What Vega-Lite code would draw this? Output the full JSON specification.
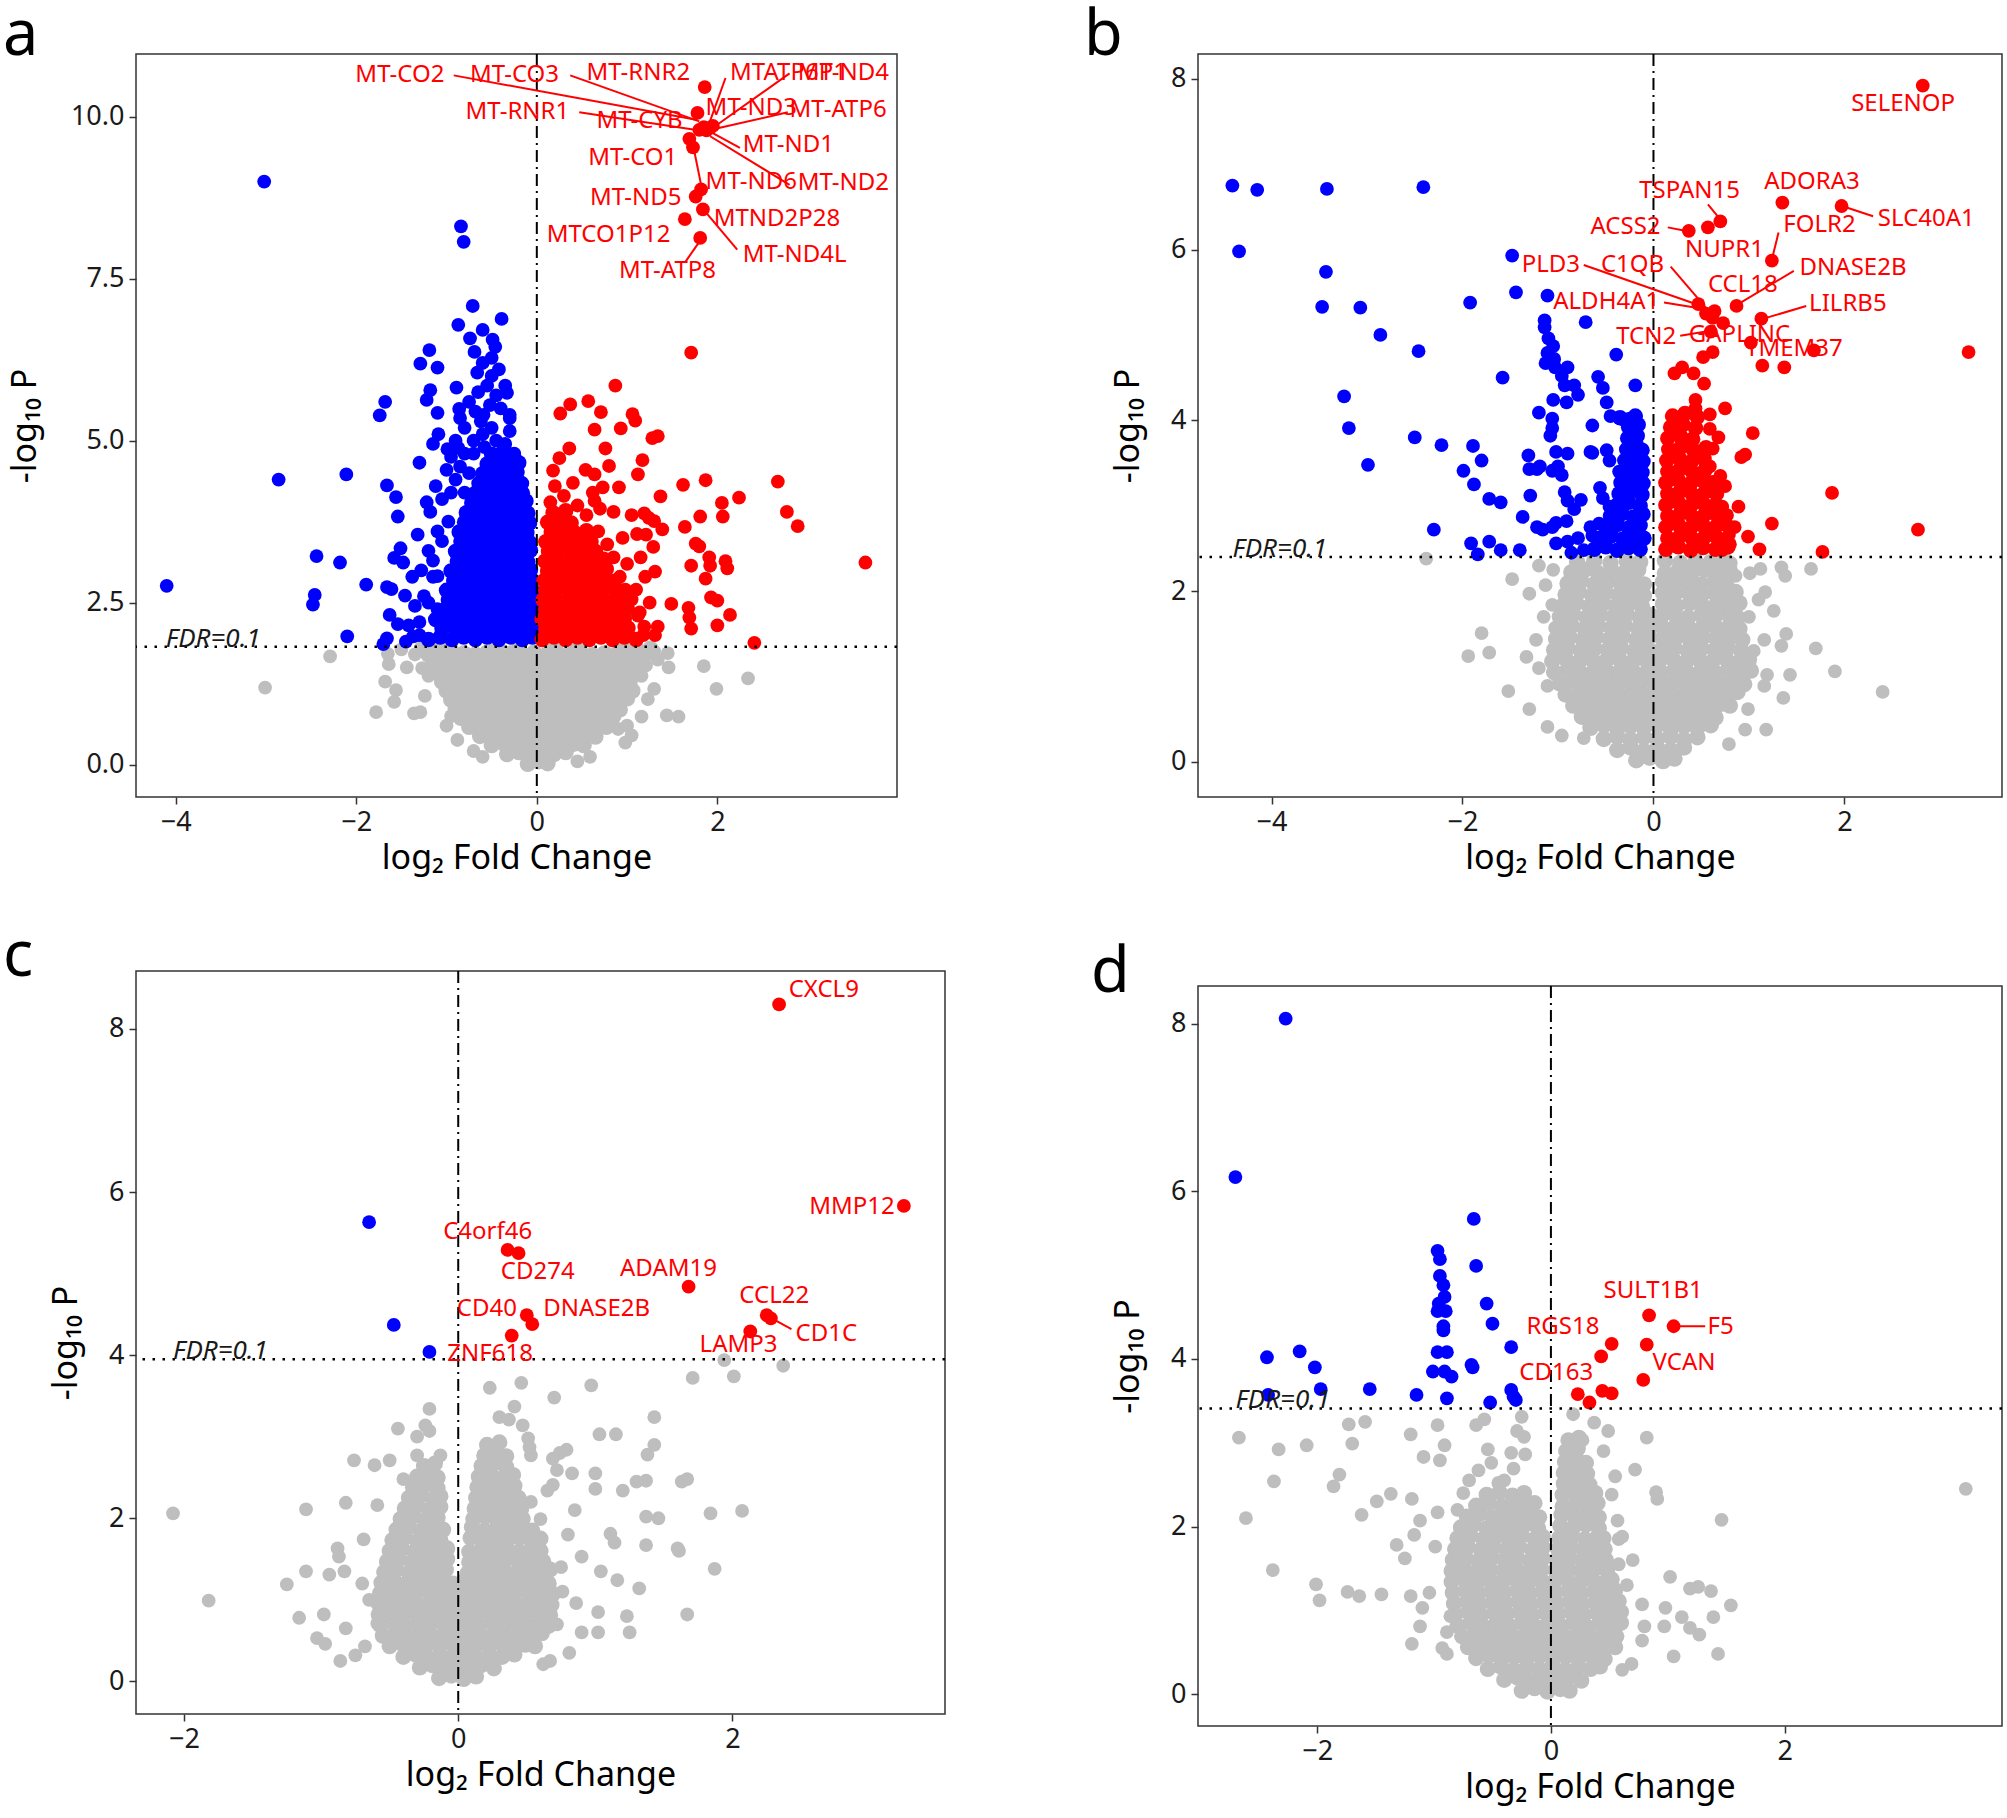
{
"$schema":"https://vega.github.io/schema/vega-lite/v6.json",
"background":"white",
"padding":{"left":2,"top":4,"right":0,"bottom":14},
"config":{
 "font":"Noto Sans",
 "view":{"stroke":"#333333","strokeWidth":1.5},
 "axis":{"grid":false,"domain":false,"labelFont":"Noto Sans","labelFontSize":27,"labelColor":"#1a1a1a","titleFont":"Noto Sans","titleFontSize":34,"titleFontWeight":"normal","titleColor":"black","tickColor":"#333333","tickSize":7,"tickWidth":1.5,"labelPadding":5},
 "axisX":{"titlePadding":6},
 "axisY":{"titlePadding":25},
 "title":{"font":"Noto Sans","fontSize":63,"fontWeight":"normal","color":"black","anchor":"start","frame":"group"}
},
"datasets":{
"Ag":[
{"x":-0.1,"y":0.01},{"x":0.02,"y":0.05},{"x":0.12,"y":0.02},
{"x":-0.33,"y":0.16},{"x":-0.2,"y":0.19},{"x":-0.07,"y":0.15},{"x":0.06,"y":0.18},{"x":0.19,"y":0.16},{"x":0.32,"y":0.19},
{"x":-0.5,"y":0.3},{"x":-0.37,"y":0.33},{"x":-0.24,"y":0.29},{"x":-0.11,"y":0.32},{"x":0.02,"y":0.3},{"x":0.15,"y":0.33},{"x":0.28,"y":0.29},{"x":0.41,"y":0.32},{"x":0.52,"y":0.3},
{"x":-0.63,"y":0.44},{"x":-0.5,"y":0.47},{"x":-0.37,"y":0.43},{"x":-0.24,"y":0.46},{"x":-0.11,"y":0.44},{"x":0.02,"y":0.47},{"x":0.15,"y":0.43},{"x":0.28,"y":0.46},{"x":0.41,"y":0.44},{"x":0.54,"y":0.47},{"x":0.65,"y":0.43},
{"x":-0.75,"y":0.58},{"x":-0.62,"y":0.61},{"x":-0.49,"y":0.57},{"x":-0.36,"y":0.6},{"x":-0.23,"y":0.58},{"x":-0.1,"y":0.61},{"x":0.03,"y":0.57},{"x":0.16,"y":0.6},{"x":0.29,"y":0.58},{"x":0.42,"y":0.61},{"x":0.55,"y":0.57},{"x":0.68,"y":0.6},{"x":0.77,"y":0.58},
{"x":-0.84,"y":0.72},{"x":-0.71,"y":0.75},{"x":-0.58,"y":0.71},{"x":-0.45,"y":0.74},{"x":-0.32,"y":0.72},{"x":-0.19,"y":0.75},{"x":-0.06,"y":0.71},{"x":0.07,"y":0.74},{"x":0.2,"y":0.72},{"x":0.33,"y":0.75},{"x":0.46,"y":0.71},{"x":0.59,"y":0.74},{"x":0.72,"y":0.72},{"x":0.85,"y":0.75},
{"x":-0.9,"y":0.86},{"x":-0.77,"y":0.89},{"x":-0.64,"y":0.85},{"x":-0.51,"y":0.88},{"x":-0.38,"y":0.86},{"x":-0.25,"y":0.89},{"x":-0.12,"y":0.85},{"x":0.01,"y":0.88},{"x":0.14,"y":0.86},{"x":0.27,"y":0.89},{"x":0.4,"y":0.85},{"x":0.53,"y":0.88},{"x":0.66,"y":0.86},{"x":0.79,"y":0.89},{"x":0.92,"y":0.85},
{"x":-0.95,"y":1.0},{"x":-0.82,"y":1.03},{"x":-0.69,"y":0.99},{"x":-0.56,"y":1.02},{"x":-0.43,"y":1.0},{"x":-0.3,"y":1.03},{"x":-0.17,"y":0.99},{"x":-0.04,"y":1.02},{"x":0.09,"y":1.0},{"x":0.22,"y":1.03},{"x":0.35,"y":0.99},{"x":0.48,"y":1.02},{"x":0.61,"y":1.0},{"x":0.74,"y":1.03},{"x":0.87,"y":0.99},{"x":1.0,"y":1.02},
{"x":-1.0,"y":1.14},{"x":-0.87,"y":1.17},{"x":-0.74,"y":1.13},{"x":-0.61,"y":1.16},{"x":-0.48,"y":1.14},{"x":-0.35,"y":1.17},{"x":-0.22,"y":1.13},{"x":-0.09,"y":1.16},{"x":0.04,"y":1.14},{"x":0.17,"y":1.17},{"x":0.3,"y":1.13},{"x":0.43,"y":1.16},{"x":0.56,"y":1.14},{"x":0.69,"y":1.17},{"x":0.82,"y":1.13},{"x":0.95,"y":1.16},{"x":1.06,"y":1.14},
{"x":-1.05,"y":1.28},{"x":-0.92,"y":1.31},{"x":-0.79,"y":1.27},{"x":-0.66,"y":1.3},{"x":-0.53,"y":1.28},{"x":-0.4,"y":1.31},{"x":-0.27,"y":1.27},{"x":-0.14,"y":1.3},{"x":-0.01,"y":1.28},{"x":0.12,"y":1.31},{"x":0.25,"y":1.27},{"x":0.38,"y":1.3},{"x":0.51,"y":1.28},{"x":0.64,"y":1.31},{"x":0.77,"y":1.27},{"x":0.9,"y":1.3},{"x":1.03,"y":1.28},
{"x":-1.1,"y":1.42},{"x":-0.97,"y":1.45},{"x":-0.84,"y":1.41},{"x":-0.71,"y":1.44},{"x":-0.58,"y":1.42},{"x":-0.45,"y":1.45},{"x":-0.32,"y":1.41},{"x":-0.19,"y":1.44},{"x":-0.06,"y":1.42},{"x":0.07,"y":1.45},{"x":0.2,"y":1.41},{"x":0.33,"y":1.44},{"x":0.46,"y":1.42},{"x":0.59,"y":1.45},{"x":0.72,"y":1.41},{"x":0.85,"y":1.44},{"x":0.98,"y":1.42},{"x":1.1,"y":1.45},
{"x":-1.15,"y":1.56},{"x":-1.02,"y":1.59},{"x":-0.89,"y":1.55},{"x":-0.76,"y":1.58},{"x":-0.63,"y":1.56},{"x":-0.5,"y":1.59},{"x":-0.37,"y":1.55},{"x":-0.24,"y":1.58},{"x":-0.11,"y":1.56},{"x":0.02,"y":1.59},{"x":0.15,"y":1.55},{"x":0.28,"y":1.58},{"x":0.41,"y":1.56},{"x":0.54,"y":1.59},{"x":0.67,"y":1.55},{"x":0.8,"y":1.58},{"x":0.93,"y":1.56},{"x":1.06,"y":1.59},{"x":1.16,"y":1.55},
{"x":-1.2,"y":1.7},{"x":-1.07,"y":1.73},{"x":-0.94,"y":1.69},{"x":-0.81,"y":1.72},{"x":-0.68,"y":1.7},{"x":-0.55,"y":1.73},{"x":-0.42,"y":1.69},{"x":-0.29,"y":1.72},{"x":-0.16,"y":1.7},{"x":-0.03,"y":1.73},{"x":0.1,"y":1.69},{"x":0.23,"y":1.72},{"x":0.36,"y":1.7},{"x":0.49,"y":1.73},{"x":0.62,"y":1.69},{"x":0.75,"y":1.72},{"x":0.88,"y":1.7},{"x":1.01,"y":1.73},{"x":1.14,"y":1.69},{"x":1.22,"y":1.72},
{"x":-1.27,"y":1.8},{"x":-1.12,"y":1.79},{"x":-0.96,"y":1.81},{"x":-0.45,"y":1.8},{"x":-0.2,"y":1.79},{"x":0.2,"y":1.8},{"x":0.45,"y":1.79},{"x":0.95,"y":1.81},{"x":1.1,"y":1.8},{"x":1.26,"y":1.79}
],
"Ago":[
{"x":-2.29,"y":1.67},{"x":-3.01,"y":1.19},{"x":-1.65,"y":1.71},{"x":-1.64,"y":1.55},{"x":-1.44,"y":1.5},{"x":-1.68,"y":1.28},{"x":-1.56,"y":1.15},{"x":-1.58,"y":0.97},{"x":-1.78,"y":0.81},{"x":-1.36,"y":0.79},{"x":-1.29,"y":0.81},{"x":-1.24,"y":1.06},{"x":-1.27,"y":1.49},{"x":-1.2,"y":1.37},{"x":-1.35,"y":1.7},{"x":-1.5,"y":1.78},{"x":-1.0,"y":0.6},{"x":-0.95,"y":0.75},{"x":-0.88,"y":0.38},{"x":-0.7,"y":0.21},{"x":-0.6,"y":0.12},
{"x":1.34,"y":1.62},{"x":1.46,"y":1.5},{"x":1.85,"y":1.52},{"x":1.99,"y":1.17},{"x":2.34,"y":1.33},{"x":1.44,"y":0.76},{"x":1.57,"y":0.74},{"x":1.3,"y":1.17},{"x":1.23,"y":1.01},{"x":1.16,"y":0.74},{"x":1.05,"y":0.45},{"x":0.98,"y":0.34},{"x":0.59,"y":0.12},{"x":1.16,"y":1.37},{"x":1.21,"y":1.53},{"x":1.0,"y":0.6},{"x":0.9,"y":0.55},{"x":0.45,"y":0.05},{"x":1.3,"y":1.75},{"x":1.45,"y":1.72}
],
"Ab":[
{"x":-1.2,"y":1.93},{"x":-1.07,"y":1.97},{"x":-0.94,"y":1.93},{"x":-0.81,"y":1.97},{"x":-0.68,"y":1.93},{"x":-0.55,"y":1.97},{"x":-0.42,"y":1.93},{"x":-0.29,"y":1.97},{"x":-0.16,"y":1.93},{"x":-0.05,"y":1.97},
{"x":-1.05,"y":2.1},{"x":-0.92,"y":2.12},{"x":-0.79,"y":2.08},{"x":-0.66,"y":2.11},{"x":-0.53,"y":2.09},{"x":-0.4,"y":2.12},{"x":-0.27,"y":2.08},{"x":-0.14,"y":2.11},{"x":-0.05,"y":2.09},
{"x":-1.12,"y":2.24},{"x":-0.99,"y":2.27},{"x":-0.86,"y":2.23},{"x":-0.73,"y":2.26},{"x":-0.6,"y":2.24},{"x":-0.47,"y":2.27},{"x":-0.34,"y":2.23},{"x":-0.21,"y":2.26},{"x":-0.08,"y":2.24},
{"x":-1.02,"y":2.39},{"x":-0.89,"y":2.42},{"x":-0.76,"y":2.38},{"x":-0.63,"y":2.41},{"x":-0.5,"y":2.39},{"x":-0.37,"y":2.42},{"x":-0.24,"y":2.38},{"x":-0.11,"y":2.41},{"x":-0.04,"y":2.39},
{"x":-0.98,"y":2.54},{"x":-0.85,"y":2.57},{"x":-0.72,"y":2.53},{"x":-0.59,"y":2.56},{"x":-0.46,"y":2.54},{"x":-0.33,"y":2.57},{"x":-0.2,"y":2.53},{"x":-0.07,"y":2.56},
{"x":-1.0,"y":2.69},{"x":-0.9,"y":2.72},{"x":-0.77,"y":2.68},{"x":-0.64,"y":2.71},{"x":-0.51,"y":2.69},{"x":-0.38,"y":2.72},{"x":-0.25,"y":2.68},{"x":-0.12,"y":2.71},{"x":-0.05,"y":2.69},
{"x":-0.92,"y":2.84},{"x":-0.79,"y":2.87},{"x":-0.66,"y":2.83},{"x":-0.53,"y":2.86},{"x":-0.4,"y":2.84},{"x":-0.27,"y":2.87},{"x":-0.14,"y":2.83},{"x":-0.06,"y":2.86},
{"x":-0.95,"y":2.99},{"x":-0.83,"y":3.02},{"x":-0.7,"y":2.98},{"x":-0.57,"y":3.01},{"x":-0.44,"y":2.99},{"x":-0.31,"y":3.02},{"x":-0.18,"y":2.98},{"x":-0.07,"y":3.01},
{"x":-0.88,"y":3.14},{"x":-0.75,"y":3.17},{"x":-0.62,"y":3.13},{"x":-0.49,"y":3.16},{"x":-0.36,"y":3.14},{"x":-0.23,"y":3.17},{"x":-0.1,"y":3.13},
{"x":-0.9,"y":3.29},{"x":-0.8,"y":3.32},{"x":-0.67,"y":3.28},{"x":-0.54,"y":3.31},{"x":-0.41,"y":3.29},{"x":-0.28,"y":3.32},{"x":-0.15,"y":3.28},{"x":-0.07,"y":3.31},
{"x":-0.84,"y":3.44},{"x":-0.71,"y":3.47},{"x":-0.58,"y":3.43},{"x":-0.45,"y":3.46},{"x":-0.32,"y":3.44},{"x":-0.19,"y":3.47},{"x":-0.08,"y":3.43},
{"x":-0.86,"y":3.59},{"x":-0.76,"y":3.62},{"x":-0.63,"y":3.58},{"x":-0.5,"y":3.61},{"x":-0.37,"y":3.59},{"x":-0.24,"y":3.62},{"x":-0.11,"y":3.58},
{"x":-0.8,"y":3.74},{"x":-0.67,"y":3.77},{"x":-0.54,"y":3.73},{"x":-0.41,"y":3.76},{"x":-0.28,"y":3.74},{"x":-0.15,"y":3.77},{"x":-0.08,"y":3.73},
{"x":-0.78,"y":3.89},{"x":-0.7,"y":3.92},{"x":-0.58,"y":3.88},{"x":-0.45,"y":3.91},{"x":-0.32,"y":3.89},{"x":-0.19,"y":3.92},{"x":-0.1,"y":3.88},
{"x":-0.72,"y":4.04},{"x":-0.6,"y":4.07},{"x":-0.49,"y":4.03},{"x":-0.36,"y":4.06},{"x":-0.23,"y":4.04},{"x":-0.12,"y":4.07},
{"x":-0.68,"y":4.19},{"x":-0.55,"y":4.22},{"x":-0.42,"y":4.18},{"x":-0.29,"y":4.21},{"x":-0.16,"y":4.19},
{"x":-0.64,"y":4.34},{"x":-0.52,"y":4.37},{"x":-0.4,"y":4.33},{"x":-0.27,"y":4.36},{"x":-0.17,"y":4.34},
{"x":-0.6,"y":4.49},{"x":-0.47,"y":4.52},{"x":-0.34,"y":4.48},{"x":-0.22,"y":4.51},
{"x":-0.55,"y":4.64},{"x":-0.43,"y":4.67},{"x":-0.3,"y":4.63},{"x":-0.2,"y":4.66},
{"x":-0.5,"y":4.79},{"x":-0.38,"y":4.82},{"x":-0.26,"y":4.78}
],
"Abo":[
{"x":-1.3,"y":2.2},{"x":-1.25,"y":2.6},{"x":-1.15,"y":2.9},{"x":-1.35,"y":2.45},{"x":-1.2,"y":3.3},{"x":-1.1,"y":3.6},{"x":-1.18,"y":3.9},{"x":-1.05,"y":4.1},{"x":-1.12,"y":4.3},{"x":-1.0,"y":4.55},{"x":-0.95,"y":4.75},{"x":-1.3,"y":2.0},{"x":-1.42,"y":2.15},{"x":-1.45,"y":1.9},{"x":-1.1,"y":2.4},{"x":-1.28,"y":3.0},{"x":-1.38,"y":2.9},{"x":-1.15,"y":3.15},{"x":-1.05,"y":3.45},{"x":-0.98,"y":3.75},{"x":-0.95,"y":4.2},{"x":-0.9,"y":4.4},{"x":-0.85,"y":4.6},{"x":-0.75,"y":4.5},{"x":-0.8,"y":4.2},
{"x":-0.9,"y":5.0},{"x":-0.8,"y":5.2},{"x":-0.7,"y":5.0},{"x":-0.6,"y":5.1},{"x":-0.5,"y":5.2},{"x":-0.45,"y":5.0},{"x":-0.35,"y":4.95},{"x":-0.3,"y":5.15},{"x":-0.75,"y":5.6},{"x":-0.65,"y":5.75},{"x":-0.55,"y":5.85},{"x":-0.45,"y":5.7},{"x":-0.62,"y":5.3},{"x":-0.4,"y":5.5},{"x":-0.3,"y":5.35},{"x":-0.8,"y":4.8},{"x":-0.7,"y":4.8},{"x":-0.58,"y":4.9},{"x":-0.25,"y":4.8},{"x":-0.2,"y":4.65},{"x":-0.52,"y":5.55},{"x":-0.68,"y":5.45},{"x":-0.85,"y":5.35},{"x":-0.35,"y":5.85},{"x":-0.5,"y":6.0},{"x":-0.6,"y":6.2},{"x":-0.42,"y":6.1},
{"x":-3.02,"y":9.0},{"x":-0.84,"y":8.31},{"x":-0.81,"y":8.07},{"x":-0.71,"y":7.08},{"x":-0.39,"y":6.88},{"x":-0.87,"y":6.79},{"x":-0.6,"y":6.71},{"x":-0.74,"y":6.58},{"x":-0.49,"y":6.56},{"x":-0.46,"y":6.45},{"x":-1.19,"y":6.4},{"x":-0.69,"y":6.37},{"x":-1.29,"y":6.19},{"x":-1.1,"y":6.13},{"x":-0.5,"y":6.28},{"x":-0.66,"y":6.05},{"x":-0.89,"y":5.82},{"x":-1.18,"y":5.78},{"x":-0.33,"y":5.74},{"x":-1.22,"y":5.63},{"x":-1.68,"y":5.6},{"x":-1.74,"y":5.39},{"x":-1.1,"y":5.43},{"x":-0.86,"y":5.49},{"x":-0.59,"y":5.4},{"x":-0.3,"y":5.4},{"x":-1.09,"y":5.1},{"x":-0.87,"y":4.89},{"x":-0.99,"y":4.87},{"x":-2.86,"y":4.4},{"x":-2.11,"y":4.48},{"x":-1.3,"y":4.66},{"x":-1.66,"y":4.31},{"x":-1.56,"y":4.13},{"x":-1.54,"y":3.83},{"x":-1.51,"y":3.34},{"x":-1.48,"y":3.12},{"x":-1.58,"y":3.19},{"x":-2.44,"y":3.22},{"x":-2.18,"y":3.12},{"x":-4.1,"y":2.76},{"x":-1.89,"y":2.78},{"x":-1.66,"y":2.74},{"x":-1.61,"y":2.71},{"x":-1.46,"y":2.61},{"x":-2.46,"y":2.62},{"x":-2.48,"y":2.47},{"x":-2.1,"y":1.98},{"x":-1.63,"y":2.31},{"x":-1.54,"y":2.17},{"x":-1.66,"y":1.95},{"x":-1.7,"y":1.86},{"x":-1.37,"y":1.98},{"x":-1.1,"y":2.91},{"x":-1.2,"y":2.5},{"x":-1.32,"y":3.55},{"x":-1.22,"y":4.05},{"x":-1.15,"y":4.95}
],
"Ar":[
{"x":0.06,"y":1.93},{"x":0.19,"y":1.97},{"x":0.32,"y":1.93},{"x":0.45,"y":1.97},{"x":0.58,"y":1.93},{"x":0.71,"y":1.97},{"x":0.84,"y":1.93},{"x":0.97,"y":1.97},{"x":1.1,"y":1.93},
{"x":0.1,"y":2.09},{"x":0.23,"y":2.12},{"x":0.36,"y":2.08},{"x":0.49,"y":2.11},{"x":0.62,"y":2.09},{"x":0.75,"y":2.12},{"x":0.88,"y":2.08},{"x":1.01,"y":2.11},
{"x":0.06,"y":2.24},{"x":0.19,"y":2.27},{"x":0.32,"y":2.23},{"x":0.45,"y":2.26},{"x":0.58,"y":2.24},{"x":0.71,"y":2.27},{"x":0.84,"y":2.23},{"x":0.97,"y":2.26},
{"x":0.1,"y":2.39},{"x":0.23,"y":2.42},{"x":0.36,"y":2.38},{"x":0.49,"y":2.41},{"x":0.62,"y":2.39},{"x":0.75,"y":2.42},{"x":0.88,"y":2.38},{"x":1.0,"y":2.41},
{"x":0.07,"y":2.54},{"x":0.2,"y":2.57},{"x":0.33,"y":2.53},{"x":0.46,"y":2.56},{"x":0.59,"y":2.54},{"x":0.72,"y":2.57},{"x":0.85,"y":2.53},{"x":0.95,"y":2.56},
{"x":0.1,"y":2.69},{"x":0.23,"y":2.72},{"x":0.36,"y":2.68},{"x":0.49,"y":2.71},{"x":0.62,"y":2.69},{"x":0.75,"y":2.72},{"x":0.88,"y":2.68},
{"x":0.08,"y":2.84},{"x":0.21,"y":2.87},{"x":0.34,"y":2.83},{"x":0.47,"y":2.86},{"x":0.6,"y":2.84},{"x":0.73,"y":2.87},{"x":0.86,"y":2.83},
{"x":0.12,"y":2.99},{"x":0.25,"y":3.02},{"x":0.38,"y":2.98},{"x":0.51,"y":3.01},{"x":0.64,"y":2.99},{"x":0.77,"y":3.02},
{"x":0.09,"y":3.14},{"x":0.22,"y":3.17},{"x":0.35,"y":3.13},{"x":0.48,"y":3.16},{"x":0.61,"y":3.14},{"x":0.74,"y":3.17},
{"x":0.13,"y":3.29},{"x":0.26,"y":3.32},{"x":0.39,"y":3.28},{"x":0.52,"y":3.31},{"x":0.65,"y":3.29},
{"x":0.1,"y":3.44},{"x":0.23,"y":3.47},{"x":0.36,"y":3.43},{"x":0.49,"y":3.46},{"x":0.6,"y":3.44},
{"x":0.16,"y":3.59},{"x":0.29,"y":3.62},{"x":0.42,"y":3.58},{"x":0.55,"y":3.61},
{"x":0.12,"y":3.74},{"x":0.25,"y":3.77},{"x":0.38,"y":3.73},
{"x":0.18,"y":3.89},{"x":0.32,"y":3.92}
],
"Aro":[
{"x":0.15,"y":4.05},{"x":0.3,"y":4.15},{"x":0.45,"y":4.0},{"x":0.55,"y":3.85},{"x":0.68,"y":3.6},{"x":0.78,"y":3.4},{"x":0.85,"y":3.2},{"x":0.92,"y":2.9},{"x":0.98,"y":2.7},{"x":1.05,"y":2.55},{"x":1.12,"y":2.3},{"x":0.2,"y":4.3},{"x":0.4,"y":4.35},{"x":0.62,"y":4.2},{"x":0.85,"y":3.9},{"x":0.95,"y":3.5},{"x":1.0,"y":3.1},{"x":0.7,"y":3.95},
{"x":1.71,"y":6.36},{"x":0.87,"y":5.85},{"x":0.57,"y":5.61},{"x":0.37,"y":5.56},{"x":0.26,"y":5.42},{"x":0.71,"y":5.44},{"x":1.06,"y":5.41},{"x":1.09,"y":5.31},{"x":0.64,"y":5.17},{"x":0.93,"y":5.19},{"x":1.28,"y":5.04},{"x":1.34,"y":5.07},{"x":0.36,"y":4.88},{"x":0.76,"y":4.88},{"x":0.25,"y":4.73},{"x":1.17,"y":4.7},{"x":0.8,"y":4.61},{"x":0.18,"y":4.54},{"x":0.54,"y":4.55},{"x":0.64,"y":4.48},{"x":1.12,"y":4.48},{"x":1.87,"y":4.39},{"x":2.67,"y":4.37},{"x":1.62,"y":4.32},{"x":0.73,"y":4.28},{"x":0.91,"y":4.28},{"x":1.37,"y":4.14},{"x":2.24,"y":4.12},{"x":2.05,"y":4.04},{"x":0.64,"y":4.07},{"x":2.77,"y":3.9},{"x":2.06,"y":3.83},{"x":1.81,"y":3.83},{"x":1.19,"y":3.88},{"x":1.24,"y":3.81},{"x":1.3,"y":3.76},{"x":2.89,"y":3.68},{"x":1.64,"y":3.67},{"x":1.39,"y":3.63},{"x":1.11,"y":3.56},{"x":1.21,"y":3.55},{"x":1.76,"y":3.41},{"x":1.8,"y":3.37},{"x":1.29,"y":3.36},{"x":3.64,"y":3.12},{"x":1.91,"y":3.2},{"x":2.09,"y":3.14},{"x":2.11,"y":3.03},{"x":1.92,"y":3.07},{"x":1.71,"y":3.07},{"x":1.31,"y":2.98},{"x":1.87,"y":2.87},{"x":1.93,"y":2.58},{"x":2.0,"y":2.53},{"x":1.49,"y":2.48},{"x":1.68,"y":2.42},{"x":2.14,"y":2.31},{"x":1.69,"y":2.27},{"x":1.71,"y":2.1},{"x":2.0,"y":2.15},{"x":2.41,"y":1.88},{"x":1.14,"y":2.35},{"x":1.19,"y":2.13},{"x":1.34,"y":2.13},{"x":1.31,"y":2.0},{"x":1.18,"y":2.0},{"x":1.1,"y":2.7},{"x":1.2,"y":2.9},{"x":1.15,"y":3.2},{"x":1.05,"y":3.85},{"x":1.25,"y":2.5},
{"x":1.86,"y":10.46},{"x":1.78,"y":10.06},{"x":1.85,"y":9.84},{"x":1.92,"y":9.83},{"x":1.88,"y":9.79},{"x":1.95,"y":9.86},{"x":1.8,"y":9.8},{"x":1.69,"y":9.66},{"x":1.73,"y":9.53},{"x":1.82,"y":8.88},{"x":1.76,"y":8.77},{"x":1.84,"y":8.57},{"x":1.64,"y":8.42},{"x":1.81,"y":8.13}
],
"AL":[
{"x":-0.92,"y":10.64,"x2":1.78,"y2":9.95},{"x":0.37,"y":10.64,"x2":1.8,"y2":9.93},{"x":0.47,"y":10.07,"x2":1.75,"y2":9.8},{"x":2.09,"y":10.6,"x2":1.9,"y2":9.86},{"x":2.8,"y":10.67,"x2":1.92,"y2":9.8},{"x":1.93,"y":9.8,"x2":2.78,"y2":10.07},{"x":1.95,"y":9.75,"x2":2.25,"y2":9.52},{"x":1.92,"y":9.7,"x2":2.8,"y2":8.95},{"x":1.74,"y":9.5,"x2":1.82,"y2":8.95},{"x":1.84,"y":8.58,"x2":2.22,"y2":7.95},{"x":1.79,"y":8.05,"x2":1.64,"y2":7.75}
],
"AT":[
{"x":-2.01,"y":10.64,"t":"MT-CO2"},{"x":-0.74,"y":10.64,"t":"MT-CO3"},{"x":0.55,"y":10.68,"t":"MT-RNR2"},{"x":2.14,"y":10.68,"t":"MTATP6P1"},{"x":2.89,"y":10.68,"t":"MT-ND4"},{"x":-0.79,"y":10.08,"t":"MT-RNR1"},{"x":0.66,"y":9.94,"t":"MT-CYB"},{"x":1.87,"y":10.13,"t":"MT-ND3"},{"x":2.8,"y":10.1,"t":"MT-ATP6"},{"x":2.28,"y":9.56,"t":"MT-ND1"},{"x":0.57,"y":9.36,"t":"MT-CO1"},{"x":1.87,"y":9.0,"t":"MT-ND6"},{"x":2.89,"y":8.98,"t":"MT-ND2"},{"x":0.59,"y":8.75,"t":"MT-ND5"},{"x":1.96,"y":8.42,"t":"MTND2P28"},{"x":0.11,"y":8.17,"t":"MTCO1P12"},{"x":2.28,"y":7.86,"t":"MT-ND4L"},{"x":0.91,"y":7.62,"t":"MT-ATP8"}
],
"Bg":[
{"x":-0.18,"y":0.02},{"x":-0.04,"y":0.05},{"x":0.1,"y":0.01},{"x":0.22,"y":0.04},
{"x":-0.38,"y":0.14},{"x":-0.24,"y":0.17},{"x":-0.1,"y":0.13},{"x":0.04,"y":0.16},{"x":0.18,"y":0.14},{"x":0.32,"y":0.17},
{"x":-0.52,"y":0.27},{"x":-0.38,"y":0.3},{"x":-0.24,"y":0.26},{"x":-0.1,"y":0.29},{"x":0.04,"y":0.27},{"x":0.18,"y":0.3},{"x":0.32,"y":0.26},{"x":0.46,"y":0.29},
{"x":-0.66,"y":0.4},{"x":-0.52,"y":0.43},{"x":-0.38,"y":0.39},{"x":-0.24,"y":0.42},{"x":-0.1,"y":0.4},{"x":0.04,"y":0.43},{"x":0.18,"y":0.39},{"x":0.32,"y":0.42},{"x":0.46,"y":0.4},{"x":0.6,"y":0.43},
{"x":-0.75,"y":0.53},{"x":-0.61,"y":0.56},{"x":-0.47,"y":0.52},{"x":-0.33,"y":0.55},{"x":-0.19,"y":0.53},{"x":-0.05,"y":0.56},{"x":0.09,"y":0.52},{"x":0.23,"y":0.55},{"x":0.37,"y":0.53},{"x":0.51,"y":0.56},{"x":0.65,"y":0.52},
{"x":-0.84,"y":0.66},{"x":-0.7,"y":0.69},{"x":-0.56,"y":0.65},{"x":-0.42,"y":0.68},{"x":-0.28,"y":0.66},{"x":-0.14,"y":0.69},{"x":0.0,"y":0.65},{"x":0.14,"y":0.68},{"x":0.28,"y":0.66},{"x":0.42,"y":0.69},{"x":0.56,"y":0.65},{"x":0.7,"y":0.68},{"x":0.8,"y":0.66},
{"x":-0.92,"y":0.79},{"x":-0.78,"y":0.82},{"x":-0.64,"y":0.78},{"x":-0.5,"y":0.81},{"x":-0.36,"y":0.79},{"x":-0.22,"y":0.82},{"x":-0.08,"y":0.78},{"x":0.06,"y":0.81},{"x":0.2,"y":0.79},{"x":0.34,"y":0.82},{"x":0.48,"y":0.78},{"x":0.62,"y":0.81},{"x":0.76,"y":0.79},{"x":0.88,"y":0.82},
{"x":-0.98,"y":0.92},{"x":-0.84,"y":0.95},{"x":-0.7,"y":0.91},{"x":-0.56,"y":0.94},{"x":-0.42,"y":0.92},{"x":-0.28,"y":0.95},{"x":-0.14,"y":0.91},{"x":0.0,"y":0.94},{"x":0.14,"y":0.92},{"x":0.28,"y":0.95},{"x":0.42,"y":0.91},{"x":0.56,"y":0.94},{"x":0.7,"y":0.92},{"x":0.84,"y":0.95},{"x":0.95,"y":0.91},
{"x":-1.04,"y":1.05},{"x":-0.9,"y":1.08},{"x":-0.76,"y":1.04},{"x":-0.62,"y":1.07},{"x":-0.48,"y":1.05},{"x":-0.34,"y":1.08},{"x":-0.2,"y":1.04},{"x":-0.06,"y":1.07},{"x":0.08,"y":1.05},{"x":0.22,"y":1.08},{"x":0.36,"y":1.04},{"x":0.5,"y":1.07},{"x":0.64,"y":1.05},{"x":0.78,"y":1.08},{"x":0.92,"y":1.04},{"x":1.02,"y":1.07},
{"x":-1.06,"y":1.18},{"x":-0.92,"y":1.21},{"x":-0.78,"y":1.17},{"x":-0.64,"y":1.2},{"x":-0.5,"y":1.18},{"x":-0.36,"y":1.21},{"x":-0.22,"y":1.17},{"x":-0.08,"y":1.2},{"x":0.06,"y":1.18},{"x":0.2,"y":1.21},{"x":0.34,"y":1.17},{"x":0.48,"y":1.2},{"x":0.62,"y":1.18},{"x":0.76,"y":1.21},{"x":0.9,"y":1.17},{"x":1.0,"y":1.2},
{"x":-1.04,"y":1.31},{"x":-0.9,"y":1.34},{"x":-0.76,"y":1.3},{"x":-0.62,"y":1.33},{"x":-0.48,"y":1.31},{"x":-0.34,"y":1.34},{"x":-0.2,"y":1.3},{"x":-0.06,"y":1.33},{"x":0.08,"y":1.31},{"x":0.22,"y":1.34},{"x":0.36,"y":1.3},{"x":0.5,"y":1.33},{"x":0.64,"y":1.31},{"x":0.78,"y":1.34},{"x":0.92,"y":1.3},
{"x":-1.02,"y":1.44},{"x":-0.88,"y":1.47},{"x":-0.74,"y":1.43},{"x":-0.6,"y":1.46},{"x":-0.46,"y":1.44},{"x":-0.32,"y":1.47},{"x":-0.18,"y":1.43},{"x":-0.04,"y":1.46},{"x":0.1,"y":1.44},{"x":0.24,"y":1.47},{"x":0.38,"y":1.43},{"x":0.52,"y":1.46},{"x":0.66,"y":1.44},{"x":0.8,"y":1.47},{"x":0.93,"y":1.43},
{"x":-1.0,"y":1.57},{"x":-0.86,"y":1.6},{"x":-0.72,"y":1.56},{"x":-0.58,"y":1.59},{"x":-0.44,"y":1.57},{"x":-0.3,"y":1.6},{"x":-0.16,"y":1.56},{"x":-0.03,"y":1.59},{"x":0.1,"y":1.57},{"x":0.24,"y":1.6},{"x":0.38,"y":1.56},{"x":0.52,"y":1.59},{"x":0.66,"y":1.57},{"x":0.8,"y":1.6},{"x":0.9,"y":1.56},
{"x":-0.98,"y":1.7},{"x":-0.84,"y":1.73},{"x":-0.7,"y":1.69},{"x":-0.56,"y":1.72},{"x":-0.42,"y":1.7},{"x":-0.28,"y":1.73},{"x":-0.14,"y":1.69},{"x":-0.03,"y":1.72},{"x":0.08,"y":1.7},{"x":0.22,"y":1.73},{"x":0.36,"y":1.69},{"x":0.5,"y":1.72},{"x":0.64,"y":1.7},{"x":0.78,"y":1.73},{"x":0.88,"y":1.69},
{"x":-0.95,"y":1.83},{"x":-0.81,"y":1.86},{"x":-0.67,"y":1.82},{"x":-0.53,"y":1.85},{"x":-0.39,"y":1.83},{"x":-0.25,"y":1.86},{"x":-0.12,"y":1.82},{"x":0.1,"y":1.85},{"x":0.24,"y":1.83},{"x":0.38,"y":1.86},{"x":0.52,"y":1.82},{"x":0.66,"y":1.85},{"x":0.8,"y":1.83},{"x":0.9,"y":1.86},
{"x":-0.92,"y":1.96},{"x":-0.78,"y":1.99},{"x":-0.64,"y":1.95},{"x":-0.5,"y":1.98},{"x":-0.36,"y":1.96},{"x":-0.22,"y":1.99},{"x":-0.1,"y":1.95},{"x":0.1,"y":1.98},{"x":0.22,"y":1.96},{"x":0.36,"y":1.99},{"x":0.5,"y":1.95},{"x":0.64,"y":1.98},{"x":0.78,"y":1.96},{"x":0.86,"y":1.99},
{"x":-0.9,"y":2.09},{"x":-0.76,"y":2.12},{"x":-0.62,"y":2.08},{"x":-0.48,"y":2.11},{"x":-0.34,"y":2.09},{"x":-0.2,"y":2.12},{"x":-0.1,"y":2.08},{"x":0.1,"y":2.11},{"x":0.22,"y":2.09},{"x":0.36,"y":2.12},{"x":0.5,"y":2.08},{"x":0.64,"y":2.11},{"x":0.76,"y":2.09},
{"x":-0.86,"y":2.22},{"x":-0.72,"y":2.25},{"x":-0.58,"y":2.21},{"x":-0.44,"y":2.24},{"x":-0.3,"y":2.22},{"x":-0.16,"y":2.25},{"x":0.12,"y":2.21},{"x":0.26,"y":2.24},{"x":0.4,"y":2.22},{"x":0.54,"y":2.25},{"x":0.68,"y":2.21},{"x":0.8,"y":2.24},
{"x":-0.8,"y":2.34},{"x":-0.62,"y":2.36},{"x":-0.45,"y":2.33},{"x":-0.28,"y":2.35},{"x":-0.14,"y":2.34},{"x":0.12,"y":2.36},{"x":0.28,"y":2.33},{"x":0.44,"y":2.35},{"x":0.6,"y":2.34},{"x":0.75,"y":2.36}
],
"Bgo":[
{"x":-2.38,"y":2.38},{"x":-1.48,"y":2.14},{"x":-1.8,"y":1.51},{"x":-1.94,"y":1.24},{"x":-1.72,"y":1.28},{"x":-1.52,"y":0.83},{"x":-1.3,"y":0.62},{"x":-1.23,"y":1.43},{"x":-1.3,"y":1.97},{"x":-1.13,"y":2.07},{"x":-1.06,"y":1.84},{"x":-1.03,"y":1.57},{"x":-1.33,"y":1.23},{"x":-1.11,"y":0.89},{"x":-1.11,"y":0.41},{"x":-0.96,"y":0.31},{"x":-0.73,"y":0.28},{"x":-1.2,"y":2.3},{"x":-1.05,"y":2.25},{"x":-1.15,"y":1.7},{"x":-1.2,"y":1.1},
{"x":0.81,"y":2.33},{"x":0.86,"y":2.18},{"x":1.01,"y":2.21},{"x":1.12,"y":2.26},{"x":1.34,"y":2.28},{"x":1.38,"y":2.18},{"x":1.65,"y":2.26},{"x":1.17,"y":1.99},{"x":1.26,"y":1.77},{"x":1.39,"y":1.5},{"x":1.16,"y":1.43},{"x":1.34,"y":1.36},{"x":1.7,"y":1.33},{"x":1.43,"y":1.02},{"x":1.9,"y":1.06},{"x":1.19,"y":1.02},{"x":1.16,"y":0.89},{"x":1.36,"y":0.75},{"x":2.4,"y":0.82},{"x":0.99,"y":0.62},{"x":1.18,"y":0.38},{"x":0.96,"y":0.38},{"x":0.79,"y":0.21},{"x":1.0,"y":1.7},{"x":1.05,"y":1.3},{"x":1.1,"y":1.9}
],
"Bb":[
{"x":-0.62,"y":2.49},{"x":-0.5,"y":2.52},{"x":-0.38,"y":2.48},{"x":-0.26,"y":2.51},{"x":-0.14,"y":2.49},
{"x":-0.56,"y":2.62},{"x":-0.44,"y":2.65},{"x":-0.32,"y":2.61},{"x":-0.2,"y":2.64},{"x":-0.1,"y":2.62},
{"x":-0.5,"y":2.75},{"x":-0.38,"y":2.78},{"x":-0.26,"y":2.74},{"x":-0.14,"y":2.77},
{"x":-0.45,"y":2.88},{"x":-0.33,"y":2.91},{"x":-0.21,"y":2.87},{"x":-0.11,"y":2.9},
{"x":-0.38,"y":3.01},{"x":-0.26,"y":3.04},{"x":-0.14,"y":3.0},
{"x":-0.36,"y":3.14},{"x":-0.24,"y":3.17},{"x":-0.12,"y":3.13},
{"x":-0.34,"y":3.27},{"x":-0.22,"y":3.3},{"x":-0.11,"y":3.26},
{"x":-0.32,"y":3.4},{"x":-0.2,"y":3.43},{"x":-0.12,"y":3.39},
{"x":-0.3,"y":3.53},{"x":-0.19,"y":3.56},{"x":-0.11,"y":3.52},
{"x":-0.28,"y":3.66},{"x":-0.17,"y":3.69},{"x":-0.12,"y":3.65},
{"x":-0.27,"y":3.79},{"x":-0.17,"y":3.82},{"x":-0.26,"y":3.92},{"x":-0.16,"y":3.95},{"x":-0.35,"y":4.03},{"x":-0.19,"y":4.05}
],
"Bbo":[
{"x":-4.41,"y":6.75},{"x":-4.15,"y":6.7},{"x":-3.42,"y":6.71},{"x":-2.41,"y":6.73},{"x":-4.34,"y":5.98},{"x":-3.43,"y":5.74},{"x":-3.47,"y":5.33},{"x":-3.07,"y":5.32},{"x":-2.86,"y":5.0},{"x":-2.46,"y":4.81},{"x":-3.24,"y":4.28},{"x":-3.19,"y":3.91},{"x":-2.99,"y":3.48},{"x":-2.5,"y":3.8},{"x":-2.22,"y":3.71},{"x":-1.99,"y":3.41},{"x":-1.89,"y":3.7},{"x":-1.8,"y":3.53},{"x":-1.88,"y":3.25},{"x":-1.72,"y":3.08},{"x":-1.6,"y":3.04},{"x":-1.37,"y":2.87},{"x":-2.3,"y":2.72},{"x":-1.91,"y":2.56},{"x":-1.72,"y":2.58},{"x":-1.84,"y":2.43},{"x":-1.6,"y":2.48},{"x":-1.4,"y":2.48},{"x":-1.48,"y":5.93},{"x":-1.44,"y":5.5},{"x":-1.92,"y":5.38},{"x":-1.58,"y":4.5},{"x":-1.31,"y":3.59},{"x":-1.29,"y":3.12},{"x":-1.22,"y":3.43},{"x":-1.2,"y":4.09},{"x":-1.11,"y":5.46},{"x":-0.71,"y":5.15},{"x":-0.39,"y":4.77},{"x":-0.19,"y":4.41},{"x":-0.58,"y":4.51},{"x":-0.53,"y":4.38},{"x":-0.49,"y":4.21},{"x":-0.64,"y":3.94},{"x":-0.49,"y":3.65},{"x":-0.64,"y":3.62},
{"x":-1.14,"y":5.17},{"x":-1.14,"y":5.09},{"x":-1.1,"y":4.96},{"x":-1.05,"y":4.87},{"x":-1.11,"y":4.79},{"x":-1.04,"y":4.72},{"x":-1.13,"y":4.67},{"x":-1.03,"y":4.62},{"x":-0.9,"y":4.62},{"x":-0.96,"y":4.52},{"x":-0.93,"y":4.41},{"x":-0.83,"y":4.41},{"x":-1.05,"y":4.24},{"x":-0.91,"y":4.21},{"x":-0.79,"y":4.3},{"x":-1.06,"y":4.02},{"x":-1.06,"y":3.91},{"x":-1.08,"y":3.82},{"x":-1.02,"y":3.63},{"x":-0.9,"y":3.61},{"x":-1.0,"y":3.46},{"x":-1.19,"y":3.46},{"x":-1.06,"y":3.41},{"x":-0.96,"y":3.36},{"x":-0.93,"y":3.16},{"x":-0.9,"y":3.06},{"x":-0.76,"y":3.07},{"x":-0.83,"y":2.96},{"x":-0.91,"y":2.82},{"x":-1.02,"y":2.8},{"x":-1.06,"y":2.75},{"x":-1.16,"y":2.72},{"x":-1.02,"y":2.56},{"x":-0.9,"y":2.58},{"x":-0.79,"y":2.62},{"x":-0.86,"y":2.45},{"x":-0.73,"y":2.48},{"x":-0.66,"y":2.75},{"x":-0.64,"y":2.65},{"x":-0.53,"y":2.62},{"x":-0.57,"y":2.79},{"x":-0.44,"y":2.82},{"x":-0.46,"y":2.99},{"x":-0.53,"y":3.09},{"x":-0.56,"y":3.21},{"x":-0.66,"y":3.63},{"x":-0.46,"y":3.53},{"x":-0.36,"y":3.4},{"x":-0.32,"y":3.26},{"x":-1.22,"y":2.75},{"x":-1.3,"y":3.43},{"x":-0.25,"y":4.02},{"x":-0.2,"y":3.85},{"x":-0.45,"y":4.05},{"x":-0.3,"y":4.0}
],
"Br":[
{"x":0.13,"y":2.49},{"x":0.26,"y":2.52},{"x":0.39,"y":2.48},{"x":0.52,"y":2.51},{"x":0.65,"y":2.49},{"x":0.78,"y":2.52},
{"x":0.15,"y":2.62},{"x":0.28,"y":2.65},{"x":0.41,"y":2.61},{"x":0.54,"y":2.64},{"x":0.67,"y":2.62},
{"x":0.13,"y":2.75},{"x":0.26,"y":2.78},{"x":0.39,"y":2.74},{"x":0.52,"y":2.77},{"x":0.65,"y":2.75},{"x":0.76,"y":2.78},
{"x":0.15,"y":2.88},{"x":0.28,"y":2.91},{"x":0.41,"y":2.87},{"x":0.54,"y":2.9},{"x":0.67,"y":2.88},
{"x":0.13,"y":3.01},{"x":0.26,"y":3.04},{"x":0.39,"y":3.0},{"x":0.52,"y":3.03},{"x":0.65,"y":3.01},
{"x":0.15,"y":3.14},{"x":0.28,"y":3.17},{"x":0.41,"y":3.13},{"x":0.54,"y":3.16},{"x":0.66,"y":3.14},
{"x":0.13,"y":3.27},{"x":0.26,"y":3.3},{"x":0.39,"y":3.26},{"x":0.52,"y":3.29},{"x":0.62,"y":3.27},
{"x":0.15,"y":3.4},{"x":0.28,"y":3.43},{"x":0.41,"y":3.39},{"x":0.54,"y":3.42},
{"x":0.14,"y":3.53},{"x":0.27,"y":3.56},{"x":0.4,"y":3.52},{"x":0.53,"y":3.55},
{"x":0.16,"y":3.66},{"x":0.29,"y":3.69},{"x":0.42,"y":3.65},{"x":0.55,"y":3.68},
{"x":0.15,"y":3.79},{"x":0.28,"y":3.82},{"x":0.41,"y":3.78},
{"x":0.18,"y":3.92},{"x":0.31,"y":3.95},{"x":0.44,"y":3.91},
{"x":0.2,"y":4.05},{"x":0.33,"y":4.08},{"x":0.46,"y":4.04}
],
"Bro":[
{"x":0.22,"y":4.55},{"x":0.3,"y":4.62},{"x":0.42,"y":4.55},{"x":0.53,"y":4.43},{"x":0.44,"y":4.24},{"x":0.44,"y":4.14},{"x":0.75,"y":4.14},{"x":0.59,"y":4.07},{"x":0.59,"y":3.9},{"x":1.04,"y":3.85},{"x":0.92,"y":3.57},{"x":0.96,"y":3.6},{"x":0.75,"y":3.23},{"x":0.72,"y":2.99},{"x":0.89,"y":2.99},{"x":0.77,"y":2.89},{"x":0.99,"y":2.64},{"x":0.79,"y":2.66},{"x":1.11,"y":2.49},{"x":1.24,"y":2.79},{"x":1.87,"y":3.15},{"x":2.77,"y":2.72},{"x":1.77,"y":2.46},{"x":0.72,"y":2.48},{"x":0.59,"y":3.46},{"x":0.62,"y":3.67},{"x":0.7,"y":3.35},{"x":0.68,"y":3.8},{"x":0.8,"y":2.55},{"x":0.85,"y":2.75},
{"x":2.82,"y":7.92},{"x":1.35,"y":6.55},{"x":1.97,"y":6.51},{"x":0.7,"y":6.33},{"x":0.57,"y":6.26},{"x":0.37,"y":6.22},{"x":1.24,"y":5.87},{"x":0.87,"y":5.34},{"x":0.64,"y":5.28},{"x":0.47,"y":5.36},{"x":0.55,"y":5.25},{"x":0.62,"y":5.2},{"x":0.73,"y":5.14},{"x":1.13,"y":5.19},{"x":0.6,"y":5.04},{"x":1.02,"y":4.91},{"x":1.68,"y":4.82},{"x":3.3,"y":4.8},{"x":0.62,"y":4.8},{"x":0.52,"y":4.74},{"x":1.14,"y":4.64},{"x":1.37,"y":4.62}
],
"BL":[
{"x":2.03,"y":6.49,"x2":2.3,"y2":6.39},{"x":0.57,"y":6.53,"x2":0.68,"y2":6.38},{"x":0.15,"y":6.26,"x2":0.33,"y2":6.22},{"x":1.31,"y":6.2,"x2":1.25,"y2":5.93},{"x":1.47,"y":5.75,"x2":0.9,"y2":5.37},{"x":-0.73,"y":5.82,"x2":0.45,"y2":5.36},{"x":0.18,"y":5.8,"x2":0.58,"y2":5.28},{"x":0.11,"y":5.38,"x2":0.45,"y2":5.32},{"x":1.6,"y":5.34,"x2":1.18,"y2":5.2},{"x":0.28,"y":4.99,"x2":0.55,"y2":5.04}
],
"BT":[
{"x":2.07,"y":7.7,"t":"SELENOP"},{"x":1.16,"y":6.79,"t":"ADORA3"},{"x":2.35,"y":6.36,"t":"SLC40A1"},{"x":-0.15,"y":6.68,"t":"TSPAN15"},{"x":-0.66,"y":6.26,"t":"ACSS2"},{"x":1.36,"y":6.29,"t":"FOLR2"},{"x":0.33,"y":5.99,"t":"NUPR1"},{"x":-1.38,"y":5.82,"t":"PLD3"},{"x":-0.55,"y":5.82,"t":"C1QB"},{"x":1.53,"y":5.78,"t":"DNASE2B"},{"x":0.57,"y":5.58,"t":"CCL18"},{"x":-1.05,"y":5.39,"t":"ALDH4A1"},{"x":1.63,"y":5.36,"t":"LILRB5"},{"x":-0.39,"y":4.98,"t":"TCN2"},{"x":0.37,"y":5.0,"t":"GAPLINC"},{"x":0.96,"y":4.83,"t":"TMEM37"}
],
"Cg":[
{"x":-0.14,"y":0.04},{"x":-0.05,"y":0.07},{"x":0.04,"y":0.03},{"x":0.13,"y":0.06},
{"x":-0.28,"y":0.17},{"x":-0.19,"y":0.2},{"x":-0.1,"y":0.16},{"x":-0.01,"y":0.19},{"x":0.08,"y":0.17},{"x":0.17,"y":0.2},{"x":0.26,"y":0.16},
{"x":-0.4,"y":0.3},{"x":-0.31,"y":0.33},{"x":-0.22,"y":0.29},{"x":-0.13,"y":0.32},{"x":-0.04,"y":0.3},{"x":0.05,"y":0.33},{"x":0.14,"y":0.29},{"x":0.23,"y":0.32},{"x":0.32,"y":0.3},{"x":0.41,"y":0.33},
{"x":-0.5,"y":0.43},{"x":-0.41,"y":0.46},{"x":-0.32,"y":0.42},{"x":-0.23,"y":0.45},{"x":-0.14,"y":0.43},{"x":-0.05,"y":0.46},{"x":0.04,"y":0.42},{"x":0.13,"y":0.45},{"x":0.22,"y":0.43},{"x":0.31,"y":0.46},{"x":0.4,"y":0.42},{"x":0.49,"y":0.45},{"x":0.56,"y":0.43},
{"x":-0.55,"y":0.56},{"x":-0.46,"y":0.59},{"x":-0.37,"y":0.55},{"x":-0.28,"y":0.58},{"x":-0.19,"y":0.56},{"x":-0.1,"y":0.59},{"x":-0.01,"y":0.55},{"x":0.08,"y":0.58},{"x":0.17,"y":0.56},{"x":0.26,"y":0.59},{"x":0.35,"y":0.55},{"x":0.44,"y":0.58},{"x":0.53,"y":0.56},{"x":0.61,"y":0.59},
{"x":-0.57,"y":0.69},{"x":-0.48,"y":0.72},{"x":-0.39,"y":0.68},{"x":-0.3,"y":0.71},{"x":-0.21,"y":0.69},{"x":-0.12,"y":0.72},{"x":-0.03,"y":0.68},{"x":0.06,"y":0.71},{"x":0.15,"y":0.69},{"x":0.24,"y":0.72},{"x":0.33,"y":0.68},{"x":0.42,"y":0.71},{"x":0.51,"y":0.69},{"x":0.6,"y":0.72},{"x":0.66,"y":0.68},
{"x":-0.58,"y":0.82},{"x":-0.49,"y":0.85},{"x":-0.4,"y":0.81},{"x":-0.31,"y":0.84},{"x":-0.22,"y":0.82},{"x":-0.13,"y":0.85},{"x":-0.04,"y":0.81},{"x":0.05,"y":0.84},{"x":0.14,"y":0.82},{"x":0.23,"y":0.85},{"x":0.32,"y":0.81},{"x":0.41,"y":0.84},{"x":0.5,"y":0.82},{"x":0.59,"y":0.85},{"x":0.67,"y":0.81},
{"x":-0.58,"y":0.95},{"x":-0.49,"y":0.98},{"x":-0.4,"y":0.94},{"x":-0.31,"y":0.97},{"x":-0.22,"y":0.95},{"x":-0.13,"y":0.98},{"x":-0.04,"y":0.94},{"x":0.05,"y":0.97},{"x":0.14,"y":0.95},{"x":0.23,"y":0.98},{"x":0.32,"y":0.94},{"x":0.41,"y":0.97},{"x":0.5,"y":0.95},{"x":0.59,"y":0.98},{"x":0.68,"y":0.94},
{"x":-0.57,"y":1.08},{"x":-0.48,"y":1.11},{"x":-0.39,"y":1.07},{"x":-0.3,"y":1.1},{"x":-0.21,"y":1.08},{"x":-0.12,"y":1.11},{"x":-0.03,"y":1.07},{"x":0.06,"y":1.1},{"x":0.15,"y":1.08},{"x":0.24,"y":1.11},{"x":0.33,"y":1.07},{"x":0.42,"y":1.1},{"x":0.51,"y":1.08},{"x":0.6,"y":1.11},{"x":0.69,"y":1.07},
{"x":-0.56,"y":1.21},{"x":-0.47,"y":1.24},{"x":-0.38,"y":1.2},{"x":-0.29,"y":1.23},{"x":-0.2,"y":1.21},{"x":-0.11,"y":1.24},{"x":-0.04,"y":1.2},{"x":0.04,"y":1.23},{"x":0.12,"y":1.21},{"x":0.21,"y":1.24},{"x":0.3,"y":1.2},{"x":0.39,"y":1.23},{"x":0.48,"y":1.21},{"x":0.57,"y":1.24},{"x":0.66,"y":1.2},
{"x":-0.54,"y":1.34},{"x":-0.45,"y":1.37},{"x":-0.36,"y":1.33},{"x":-0.27,"y":1.36},{"x":-0.18,"y":1.34},{"x":-0.09,"y":1.37},{"x":0.07,"y":1.33},{"x":0.15,"y":1.36},{"x":0.24,"y":1.34},{"x":0.33,"y":1.37},{"x":0.42,"y":1.33},{"x":0.51,"y":1.36},{"x":0.6,"y":1.34},{"x":0.67,"y":1.37},
{"x":-0.52,"y":1.47},{"x":-0.43,"y":1.5},{"x":-0.34,"y":1.46},{"x":-0.25,"y":1.49},{"x":-0.16,"y":1.47},{"x":-0.08,"y":1.5},{"x":0.08,"y":1.46},{"x":0.17,"y":1.49},{"x":0.26,"y":1.47},{"x":0.35,"y":1.5},{"x":0.44,"y":1.46},{"x":0.53,"y":1.49},{"x":0.62,"y":1.47},
{"x":-0.5,"y":1.6},{"x":-0.41,"y":1.63},{"x":-0.32,"y":1.59},{"x":-0.23,"y":1.62},{"x":-0.14,"y":1.6},{"x":-0.08,"y":1.63},{"x":0.08,"y":1.59},{"x":0.17,"y":1.62},{"x":0.26,"y":1.6},{"x":0.35,"y":1.63},{"x":0.44,"y":1.59},{"x":0.53,"y":1.62},{"x":0.6,"y":1.6},
{"x":-0.48,"y":1.73},{"x":-0.39,"y":1.76},{"x":-0.3,"y":1.72},{"x":-0.21,"y":1.75},{"x":-0.13,"y":1.73},{"x":0.09,"y":1.76},{"x":0.18,"y":1.72},{"x":0.27,"y":1.75},{"x":0.36,"y":1.73},{"x":0.45,"y":1.76},{"x":0.54,"y":1.72},{"x":0.6,"y":1.75},
{"x":-0.45,"y":1.86},{"x":-0.36,"y":1.89},{"x":-0.27,"y":1.85},{"x":-0.18,"y":1.88},{"x":-0.11,"y":1.86},{"x":0.1,"y":1.89},{"x":0.19,"y":1.85},{"x":0.28,"y":1.88},{"x":0.37,"y":1.86},{"x":0.46,"y":1.89},{"x":0.54,"y":1.85},
{"x":-0.42,"y":1.99},{"x":-0.33,"y":2.02},{"x":-0.24,"y":1.98},{"x":-0.15,"y":2.01},{"x":0.11,"y":1.99},{"x":0.2,"y":2.02},{"x":0.29,"y":1.98},{"x":0.38,"y":2.01},{"x":0.47,"y":1.99},
{"x":-0.39,"y":2.12},{"x":-0.3,"y":2.15},{"x":-0.21,"y":2.11},{"x":-0.13,"y":2.14},{"x":0.12,"y":2.12},{"x":0.21,"y":2.15},{"x":0.3,"y":2.11},{"x":0.39,"y":2.14},{"x":0.46,"y":2.12},
{"x":-0.36,"y":2.25},{"x":-0.27,"y":2.28},{"x":-0.18,"y":2.24},{"x":-0.13,"y":2.27},{"x":0.13,"y":2.25},{"x":0.22,"y":2.28},{"x":0.31,"y":2.24},{"x":0.4,"y":2.27},{"x":0.44,"y":2.25},
{"x":-0.33,"y":2.38},{"x":-0.24,"y":2.41},{"x":-0.15,"y":2.37},{"x":0.14,"y":2.38},{"x":0.23,"y":2.41},{"x":0.32,"y":2.37},{"x":0.41,"y":2.4},
{"x":-0.3,"y":2.51},{"x":-0.21,"y":2.54},{"x":-0.15,"y":2.5},{"x":0.15,"y":2.51},{"x":0.24,"y":2.54},{"x":0.33,"y":2.5},{"x":0.4,"y":2.53},
{"x":-0.25,"y":2.64},{"x":-0.17,"y":2.67},{"x":0.17,"y":2.64},{"x":0.26,"y":2.67},{"x":0.35,"y":2.63},
{"x":0.19,"y":2.77},{"x":0.28,"y":2.8},{"x":0.35,"y":2.76},{"x":0.21,"y":2.9},{"x":0.3,"y":2.93}
],
"Cgo":[
{"x":-2.08,"y":2.06},{"x":-1.82,"y":0.99},{"x":-1.11,"y":2.11},{"x":-1.25,"y":1.19},{"x":-1.16,"y":0.78},{"x":-0.98,"y":0.82},{"x":-1.03,"y":0.53},{"x":-0.97,"y":0.46},{"x":-0.86,"y":0.25},{"x":-0.75,"y":0.32},{"x":-0.82,"y":0.65},{"x":-1.11,"y":1.35},{"x":-0.94,"y":1.31},{"x":-0.88,"y":1.63},{"x":-0.87,"y":1.53},{"x":-0.83,"y":1.35},{"x":-0.82,"y":2.19},{"x":-0.76,"y":2.71},{"x":-0.61,"y":2.65},{"x":-0.5,"y":2.71},{"x":-0.59,"y":2.16},{"x":-0.69,"y":1.74},{"x":-0.44,"y":3.1},{"x":-0.3,"y":3.0},{"x":-0.21,"y":3.07},{"x":-0.24,"y":3.14},{"x":-0.21,"y":3.34},{"x":-0.3,"y":2.77},{"x":-0.19,"y":2.59},{"x":-0.13,"y":2.77},{"x":-0.4,"y":2.48},{"x":-0.68,"y":0.43},{"x":-0.59,"y":0.71},{"x":-0.7,"y":1.2},{"x":-0.65,"y":1.0},
{"x":0.23,"y":3.6},{"x":0.3,"y":3.24},{"x":0.41,"y":3.37},{"x":0.37,"y":3.21},{"x":0.46,"y":3.66},{"x":0.47,"y":3.14},{"x":0.51,"y":2.98},{"x":0.52,"y":2.87},{"x":0.53,"y":2.77},{"x":0.7,"y":3.48},{"x":0.97,"y":3.63},{"x":1.03,"y":3.03},{"x":1.15,"y":3.03},{"x":1.43,"y":3.24},{"x":1.43,"y":2.9},{"x":1.38,"y":2.78},{"x":0.69,"y":2.73},{"x":0.74,"y":2.8},{"x":0.79,"y":2.84},{"x":0.83,"y":2.55},{"x":0.72,"y":2.59},{"x":0.69,"y":2.41},{"x":1.0,"y":2.55},{"x":1.0,"y":2.36},{"x":1.2,"y":2.34},{"x":1.3,"y":2.45},{"x":1.37,"y":2.46},{"x":1.63,"y":2.45},{"x":1.67,"y":2.48},{"x":1.84,"y":2.06},{"x":2.07,"y":2.09},{"x":1.87,"y":1.38},{"x":1.67,"y":0.82},{"x":1.25,"y":0.6},{"x":1.23,"y":0.8},{"x":1.02,"y":0.85},{"x":1.02,"y":0.6},{"x":0.76,"y":1.1},{"x":0.86,"y":0.96},{"x":0.9,"y":1.53},{"x":1.04,"y":1.35},{"x":1.16,"y":1.24},{"x":1.11,"y":1.81},{"x":1.14,"y":1.7},{"x":1.32,"y":1.14},{"x":1.37,"y":1.67},{"x":1.37,"y":2.02},{"x":1.46,"y":2.0},{"x":1.6,"y":1.63},{"x":1.61,"y":1.6},{"x":0.53,"y":2.2},{"x":0.6,"y":1.99},{"x":0.65,"y":2.34},{"x":0.81,"y":0.35},{"x":0.62,"y":0.21},{"x":0.67,"y":0.25},{"x":1.94,"y":3.94},{"x":2.01,"y":3.74},{"x":1.71,"y":3.72},{"x":2.37,"y":3.87},{"x":0.75,"y":1.4},{"x":0.8,"y":1.8},{"x":0.85,"y":2.1},{"x":0.9,"y":0.6},{"x":0.72,"y":0.7}
],
"Cb":[{"x":-0.65,"y":5.63},{"x":-0.47,"y":4.37},{"x":-0.21,"y":4.04}],
"Cr":[{"x":2.34,"y":8.3},{"x":3.25,"y":5.83},{"x":0.36,"y":5.29},{"x":0.44,"y":5.25},{"x":1.68,"y":4.84},{"x":2.25,"y":4.49},{"x":2.28,"y":4.45},{"x":0.5,"y":4.49},{"x":0.54,"y":4.38},{"x":0.39,"y":4.24},{"x":2.13,"y":4.29}],
"CL":[{"x":2.31,"y":4.43,"x2":2.43,"y2":4.32}],
"CT":[
{"x":2.41,"y":8.48,"t":"CXCL9"},{"x":2.56,"y":5.82,"t":"MMP12"},{"x":-0.11,"y":5.51,"t":"C4orf46"},{"x":0.31,"y":5.02,"t":"CD274"},{"x":1.18,"y":5.06,"t":"ADAM19"},{"x":2.05,"y":4.72,"t":"CCL22"},{"x":-0.01,"y":4.57,"t":"CD40"},{"x":0.62,"y":4.57,"t":"DNASE2B"},{"x":2.46,"y":4.26,"t":"CD1C"},{"x":1.76,"y":4.12,"t":"LAMP3"},{"x":-0.08,"y":4.02,"t":"ZNF618"}
],
"Dg":[
{"x":-0.25,"y":0.04},{"x":-0.14,"y":0.07},{"x":-0.03,"y":0.03},{"x":0.08,"y":0.06},{"x":0.16,"y":0.04},
{"x":-0.4,"y":0.17},{"x":-0.29,"y":0.2},{"x":-0.18,"y":0.16},{"x":-0.07,"y":0.19},{"x":0.04,"y":0.17},{"x":0.15,"y":0.2},{"x":0.26,"y":0.16},
{"x":-0.54,"y":0.3},{"x":-0.43,"y":0.33},{"x":-0.32,"y":0.29},{"x":-0.21,"y":0.32},{"x":-0.1,"y":0.3},{"x":0.01,"y":0.33},{"x":0.12,"y":0.29},{"x":0.23,"y":0.32},{"x":0.34,"y":0.3},{"x":0.42,"y":0.33},
{"x":-0.64,"y":0.43},{"x":-0.53,"y":0.46},{"x":-0.42,"y":0.42},{"x":-0.31,"y":0.45},{"x":-0.2,"y":0.43},{"x":-0.09,"y":0.46},{"x":0.02,"y":0.42},{"x":0.13,"y":0.45},{"x":0.24,"y":0.43},{"x":0.35,"y":0.46},{"x":0.46,"y":0.42},
{"x":-0.71,"y":0.56},{"x":-0.6,"y":0.59},{"x":-0.49,"y":0.55},{"x":-0.38,"y":0.58},{"x":-0.27,"y":0.56},{"x":-0.16,"y":0.59},{"x":-0.05,"y":0.55},{"x":0.06,"y":0.58},{"x":0.17,"y":0.56},{"x":0.28,"y":0.59},{"x":0.39,"y":0.55},{"x":0.5,"y":0.58},{"x":0.55,"y":0.56},
{"x":-0.76,"y":0.69},{"x":-0.65,"y":0.72},{"x":-0.54,"y":0.68},{"x":-0.43,"y":0.71},{"x":-0.32,"y":0.69},{"x":-0.21,"y":0.72},{"x":-0.1,"y":0.68},{"x":0.01,"y":0.71},{"x":0.12,"y":0.69},{"x":0.23,"y":0.72},{"x":0.34,"y":0.68},{"x":0.45,"y":0.71},{"x":0.56,"y":0.69},
{"x":-0.8,"y":0.82},{"x":-0.69,"y":0.85},{"x":-0.58,"y":0.81},{"x":-0.47,"y":0.84},{"x":-0.36,"y":0.82},{"x":-0.25,"y":0.85},{"x":-0.14,"y":0.81},{"x":-0.03,"y":0.84},{"x":0.08,"y":0.82},{"x":0.19,"y":0.85},{"x":0.3,"y":0.81},{"x":0.41,"y":0.84},{"x":0.52,"y":0.82},{"x":0.6,"y":0.85},
{"x":-0.82,"y":0.95},{"x":-0.71,"y":0.98},{"x":-0.6,"y":0.94},{"x":-0.49,"y":0.97},{"x":-0.38,"y":0.95},{"x":-0.27,"y":0.98},{"x":-0.16,"y":0.94},{"x":-0.05,"y":0.97},{"x":0.06,"y":0.95},{"x":0.17,"y":0.98},{"x":0.28,"y":0.94},{"x":0.39,"y":0.97},{"x":0.5,"y":0.95},{"x":0.6,"y":0.98},
{"x":-0.83,"y":1.08},{"x":-0.72,"y":1.11},{"x":-0.61,"y":1.07},{"x":-0.5,"y":1.1},{"x":-0.39,"y":1.08},{"x":-0.28,"y":1.11},{"x":-0.17,"y":1.07},{"x":-0.06,"y":1.1},{"x":0.05,"y":1.08},{"x":0.16,"y":1.11},{"x":0.27,"y":1.07},{"x":0.38,"y":1.1},{"x":0.49,"y":1.08},{"x":0.58,"y":1.11},
{"x":-0.84,"y":1.21},{"x":-0.73,"y":1.24},{"x":-0.62,"y":1.2},{"x":-0.51,"y":1.23},{"x":-0.4,"y":1.21},{"x":-0.29,"y":1.24},{"x":-0.18,"y":1.2},{"x":-0.07,"y":1.23},{"x":0.04,"y":1.21},{"x":0.15,"y":1.24},{"x":0.26,"y":1.2},{"x":0.37,"y":1.23},{"x":0.48,"y":1.21},{"x":0.55,"y":1.24},
{"x":-0.85,"y":1.34},{"x":-0.74,"y":1.37},{"x":-0.63,"y":1.33},{"x":-0.52,"y":1.36},{"x":-0.41,"y":1.34},{"x":-0.3,"y":1.37},{"x":-0.19,"y":1.33},{"x":-0.08,"y":1.36},{"x":0.03,"y":1.34},{"x":0.14,"y":1.37},{"x":0.25,"y":1.33},{"x":0.36,"y":1.36},{"x":0.47,"y":1.34},{"x":0.52,"y":1.37},
{"x":-0.85,"y":1.47},{"x":-0.74,"y":1.5},{"x":-0.63,"y":1.46},{"x":-0.52,"y":1.49},{"x":-0.41,"y":1.47},{"x":-0.3,"y":1.5},{"x":-0.19,"y":1.46},{"x":-0.08,"y":1.49},{"x":0.04,"y":1.47},{"x":0.15,"y":1.5},{"x":0.26,"y":1.46},{"x":0.37,"y":1.49},{"x":0.48,"y":1.47},
{"x":-0.84,"y":1.6},{"x":-0.73,"y":1.63},{"x":-0.62,"y":1.59},{"x":-0.51,"y":1.62},{"x":-0.4,"y":1.6},{"x":-0.29,"y":1.63},{"x":-0.18,"y":1.59},{"x":-0.07,"y":1.62},{"x":0.05,"y":1.6},{"x":0.16,"y":1.63},{"x":0.27,"y":1.59},{"x":0.38,"y":1.62},{"x":0.47,"y":1.6},
{"x":-0.82,"y":1.73},{"x":-0.71,"y":1.76},{"x":-0.6,"y":1.72},{"x":-0.49,"y":1.75},{"x":-0.38,"y":1.73},{"x":-0.27,"y":1.76},{"x":-0.16,"y":1.72},{"x":-0.07,"y":1.75},{"x":0.06,"y":1.73},{"x":0.17,"y":1.76},{"x":0.28,"y":1.72},{"x":0.39,"y":1.75},{"x":0.46,"y":1.73},
{"x":-0.8,"y":1.86},{"x":-0.69,"y":1.89},{"x":-0.58,"y":1.85},{"x":-0.47,"y":1.88},{"x":-0.36,"y":1.86},{"x":-0.25,"y":1.89},{"x":-0.14,"y":1.85},{"x":-0.07,"y":1.88},{"x":0.07,"y":1.86},{"x":0.18,"y":1.89},{"x":0.29,"y":1.85},{"x":0.4,"y":1.88},{"x":0.45,"y":1.86},
{"x":-0.77,"y":1.99},{"x":-0.66,"y":2.02},{"x":-0.55,"y":1.98},{"x":-0.44,"y":2.01},{"x":-0.33,"y":1.99},{"x":-0.22,"y":2.02},{"x":-0.11,"y":1.98},{"x":0.08,"y":2.01},{"x":0.19,"y":1.99},{"x":0.3,"y":2.02},{"x":0.41,"y":1.98},
{"x":-0.72,"y":2.12},{"x":-0.61,"y":2.15},{"x":-0.5,"y":2.11},{"x":-0.39,"y":2.14},{"x":-0.28,"y":2.12},{"x":-0.17,"y":2.15},{"x":-0.1,"y":2.11},{"x":0.09,"y":2.14},{"x":0.2,"y":2.12},{"x":0.31,"y":2.15},{"x":0.41,"y":2.11},
{"x":-0.64,"y":2.25},{"x":-0.53,"y":2.28},{"x":-0.42,"y":2.24},{"x":-0.31,"y":2.27},{"x":-0.2,"y":2.25},{"x":-0.14,"y":2.28},{"x":0.1,"y":2.24},{"x":0.21,"y":2.27},{"x":0.32,"y":2.25},{"x":0.4,"y":2.28},
{"x":-0.55,"y":2.38},{"x":-0.44,"y":2.41},{"x":-0.33,"y":2.37},{"x":-0.23,"y":2.4},{"x":0.1,"y":2.38},{"x":0.21,"y":2.41},{"x":0.32,"y":2.37},{"x":0.38,"y":2.4},
{"x":0.11,"y":2.51},{"x":0.22,"y":2.54},{"x":0.33,"y":2.5},{"x":0.11,"y":2.64},{"x":0.21,"y":2.67},{"x":0.31,"y":2.63},{"x":0.12,"y":2.77},{"x":0.22,"y":2.8},{"x":0.3,"y":2.76},{"x":0.13,"y":2.9},{"x":0.23,"y":2.93},{"x":0.15,"y":3.03},{"x":0.24,"y":3.06}
],
"Dgo":[
{"x":-2.67,"y":3.06},{"x":-2.33,"y":2.92},{"x":-2.09,"y":2.97},{"x":-1.73,"y":3.22},{"x":-1.59,"y":3.25},{"x":-1.7,"y":2.99},{"x":-1.2,"y":3.1},{"x":-0.97,"y":3.21},{"x":-0.91,"y":2.97},{"x":-1.09,"y":2.83},{"x":-0.95,"y":2.79},{"x":-2.37,"y":2.54},{"x":-1.81,"y":2.62},{"x":-1.86,"y":2.48},{"x":-1.49,"y":2.3},{"x":-1.37,"y":2.39},{"x":-1.62,"y":2.14},{"x":-2.61,"y":2.1},{"x":-1.19,"y":2.33},{"x":-2.38,"y":1.48},{"x":-2.01,"y":1.31},{"x":-1.98,"y":1.12},{"x":-1.74,"y":1.22},{"x":-1.64,"y":1.17},{"x":-1.45,"y":1.19},{"x":-1.32,"y":1.78},{"x":-1.25,"y":1.62},{"x":-1.17,"y":1.9},{"x":-1.12,"y":2.07},{"x":-1.2,"y":1.17},{"x":-1.19,"y":0.6},{"x":-1.12,"y":0.81},{"x":-1.1,"y":1.03},{"x":-1.04,"y":1.21},{"x":-0.99,"y":1.76},{"x":-0.97,"y":2.17},{"x":-0.93,"y":0.55},{"x":-0.89,"y":0.48},{"x":-0.89,"y":0.74},{"x":-0.86,"y":0.93},{"x":-0.64,"y":3.21},{"x":-0.57,"y":3.28},{"x":-0.54,"y":2.92},{"x":-0.51,"y":2.76},{"x":-0.62,"y":2.67},{"x":-0.45,"y":2.52},{"x":-0.34,"y":2.88},{"x":-0.29,"y":3.14},{"x":-0.25,"y":3.31},{"x":-0.32,"y":2.69},{"x":-0.23,"y":3.07},{"x":-0.22,"y":2.86},{"x":-0.75,"y":2.4},{"x":-0.8,"y":2.2},{"x":-0.7,"y":2.55},{"x":-0.4,"y":2.55},
{"x":0.19,"y":3.34},{"x":0.37,"y":3.24},{"x":0.49,"y":3.14},{"x":0.27,"y":3.03},{"x":0.45,"y":2.9},{"x":0.72,"y":2.68},{"x":0.82,"y":3.06},{"x":0.32,"y":2.43},{"x":0.52,"y":2.38},{"x":0.57,"y":2.07},{"x":0.58,"y":1.85},{"x":0.61,"y":1.88},{"x":0.9,"y":2.41},{"x":0.91,"y":2.33},{"x":1.46,"y":2.08},{"x":0.58,"y":1.55},{"x":1.02,"y":1.4},{"x":1.19,"y":1.26},{"x":1.26,"y":1.28},{"x":1.37,"y":1.23},{"x":1.54,"y":1.06},{"x":1.39,"y":0.92},{"x":1.27,"y":0.71},{"x":1.19,"y":0.79},{"x":1.12,"y":0.92},{"x":0.98,"y":1.03},{"x":0.78,"y":1.07},{"x":0.8,"y":0.81},{"x":0.78,"y":0.64},{"x":0.97,"y":0.81},{"x":1.05,"y":0.45},{"x":1.43,"y":0.48},{"x":0.69,"y":0.36},{"x":0.61,"y":0.29},{"x":3.55,"y":2.45},{"x":0.65,"y":1.3},{"x":0.7,"y":1.6},{"x":0.55,"y":2.6}
],
"Db":[
{"x":-2.27,"y":8.06},{"x":-2.7,"y":6.17},{"x":-0.66,"y":5.67},{"x":-0.64,"y":5.11},{"x":-0.97,"y":5.29},{"x":-0.95,"y":5.19},{"x":-0.95,"y":4.99},{"x":-0.92,"y":4.88},{"x":-0.91,"y":4.74},{"x":-0.96,"y":4.66},{"x":-0.9,"y":4.57},{"x":-0.97,"y":4.57},{"x":-0.92,"y":4.39},{"x":-0.92,"y":4.34},{"x":-0.55,"y":4.66},{"x":-0.5,"y":4.42},{"x":-0.34,"y":4.14},{"x":-2.43,"y":4.02},{"x":-2.15,"y":4.09},{"x":-2.02,"y":3.9},{"x":-0.97,"y":4.08},{"x":-0.89,"y":4.08},{"x":-0.68,"y":3.93},{"x":-1.01,"y":3.85},{"x":-0.91,"y":3.85},{"x":-0.85,"y":3.79},{"x":-1.97,"y":3.64},{"x":-1.55,"y":3.64},{"x":-1.15,"y":3.57},{"x":-2.42,"y":3.57},{"x":-0.89,"y":3.53},{"x":-0.52,"y":3.48},{"x":-0.34,"y":3.63},{"x":-0.32,"y":3.55},{"x":-0.3,"y":3.51},{"x":-0.67,"y":3.9}
],
"Dr":[{"x":0.84,"y":4.52},{"x":1.05,"y":4.39},{"x":0.52,"y":4.18},{"x":0.82,"y":4.17},{"x":0.43,"y":4.03},{"x":0.79,"y":3.75},{"x":0.23,"y":3.58},{"x":0.44,"y":3.62},{"x":0.52,"y":3.59},{"x":0.33,"y":3.48}],
"DL":[{"x":1.1,"y":4.39,"x2":1.32,"y2":4.39}],
"DT":[{"x":0.45,"y":4.81,"t":"SULT1B1"},{"x":-0.21,"y":4.38,"t":"RGS18"},{"x":1.34,"y":4.38,"t":"F5"},{"x":0.87,"y":3.95,"t":"VCAN"},{"x":-0.27,"y":3.83,"t":"CD163"}]
},
"spacing":136,
"hconcat":[
{"spacing":49,"vconcat":[
{"width":761,"height":743,
 "title":{"text":"a","dx":-133,"offset":-15},
 "layer":[
  {"data":{"name":"Ag"},"mark":{"type":"circle","size":260,"opacity":1,"color":"#BEBEBE"},
   "encoding":{"x":{"field":"x","type":"quantitative","scale":{"domain":[-4.44,3.99],"nice":false,"zero":false},"axis":{"values":[-4,-2,0,2],"format":"d","title":"log₂ Fold Change"}},
               "y":{"field":"y","type":"quantitative","scale":{"domain":[-0.5,10.97],"nice":false,"zero":false},"axis":{"values":[0,2.5,5,7.5,10],"format":".1f","title":"-log₁₀ P","titlePadding":28}}}},
  {"data":{"name":"Ago"},"mark":{"type":"circle","size":190,"opacity":1,"color":"#BEBEBE"},"encoding":{"x":{"field":"x","type":"quantitative"},"y":{"field":"y","type":"quantitative"}}},
  {"data":{"name":"Ab"},"mark":{"type":"circle","size":240,"opacity":1,"color":"#0000FF"},"encoding":{"x":{"field":"x","type":"quantitative"},"y":{"field":"y","type":"quantitative"}}},
  {"data":{"name":"Abo"},"mark":{"type":"circle","size":190,"opacity":1,"color":"#0000FF"},"encoding":{"x":{"field":"x","type":"quantitative"},"y":{"field":"y","type":"quantitative"}}},
  {"data":{"name":"Ar"},"mark":{"type":"circle","size":240,"opacity":1,"color":"#FF0000"},"encoding":{"x":{"field":"x","type":"quantitative"},"y":{"field":"y","type":"quantitative"}}},
  {"data":{"name":"Aro"},"mark":{"type":"circle","size":190,"opacity":1,"color":"#FF0000"},"encoding":{"x":{"field":"x","type":"quantitative"},"y":{"field":"y","type":"quantitative"}}},
  {"data":{"values":[{"x":0}]},"mark":{"type":"rule","color":"black","strokeWidth":2,"strokeDash":[12,5,2,5]},"encoding":{"x":{"field":"x","type":"quantitative"}}},
  {"data":{"values":[{"y":1.82}]},"mark":{"type":"rule","color":"black","strokeWidth":2.5,"strokeDash":[2.5,7.5]},"encoding":{"y":{"field":"y","type":"quantitative"}}},
  {"data":{"values":[{"x":-4.11,"y":1.82,"t":"FDR=0.1"}]},"mark":{"type":"text","align":"left","baseline":"alphabetic","fontStyle":"italic","fontSize":26,"color":"#1a1a1a"},"encoding":{"x":{"field":"x","type":"quantitative"},"y":{"field":"y","type":"quantitative"},"text":{"field":"t"}}},
  {"data":{"name":"AL"},"mark":{"type":"rule","color":"#FF0000","strokeWidth":2},"encoding":{"x":{"field":"x","type":"quantitative"},"y":{"field":"y","type":"quantitative"},"x2":{"field":"x2"},"y2":{"field":"y2"}}},
  {"data":{"name":"AT"},"mark":{"type":"text","align":"left","baseline":"middle","fontSize":24,"color":"#FF0000"},"encoding":{"x":{"field":"x","type":"quantitative"},"y":{"field":"y","type":"quantitative"},"text":{"field":"t"}}}
 ]},
{"width":809,"height":743,
 "title":{"text":"c","dx":-133,"offset":-19},
 "layer":[
  {"data":{"name":"Cg"},"mark":{"type":"circle","size":260,"opacity":1,"color":"#BEBEBE"},
   "encoding":{"x":{"field":"x","type":"quantitative","scale":{"domain":[-2.35,3.55],"nice":false,"zero":false},"axis":{"values":[-2,0,2],"format":"d","title":"log₂ Fold Change"}},
               "y":{"field":"y","type":"quantitative","scale":{"domain":[-0.4,8.71],"nice":false,"zero":false},"axis":{"values":[0,2,4,6,8],"format":"d","title":"-log₁₀ P"}}}},
  {"data":{"name":"Cgo"},"mark":{"type":"circle","size":190,"opacity":1,"color":"#BEBEBE"},"encoding":{"x":{"field":"x","type":"quantitative"},"y":{"field":"y","type":"quantitative"}}},
  {"data":{"name":"Cb"},"mark":{"type":"circle","size":190,"opacity":1,"color":"#0000FF"},"encoding":{"x":{"field":"x","type":"quantitative"},"y":{"field":"y","type":"quantitative"}}},
  {"data":{"name":"Cr"},"mark":{"type":"circle","size":190,"opacity":1,"color":"#FF0000"},"encoding":{"x":{"field":"x","type":"quantitative"},"y":{"field":"y","type":"quantitative"}}},
  {"data":{"values":[{"x":0}]},"mark":{"type":"rule","color":"black","strokeWidth":2,"strokeDash":[12,5,2,5]},"encoding":{"x":{"field":"x","type":"quantitative"}}},
  {"data":{"values":[{"y":3.95}]},"mark":{"type":"rule","color":"black","strokeWidth":2.5,"strokeDash":[2.5,7.5]},"encoding":{"y":{"field":"y","type":"quantitative"}}},
  {"data":{"values":[{"x":-2.08,"y":3.95,"t":"FDR=0.1"}]},"mark":{"type":"text","align":"left","baseline":"alphabetic","fontStyle":"italic","fontSize":26,"color":"#1a1a1a"},"encoding":{"x":{"field":"x","type":"quantitative"},"y":{"field":"y","type":"quantitative"},"text":{"field":"t"}}},
  {"data":{"name":"CL"},"mark":{"type":"rule","color":"#FF0000","strokeWidth":2},"encoding":{"x":{"field":"x","type":"quantitative"},"y":{"field":"y","type":"quantitative"},"x2":{"field":"x2"},"y2":{"field":"y2"}}},
  {"data":{"name":"CT"},"mark":{"type":"text","align":"left","baseline":"middle","fontSize":24,"color":"#FF0000"},"encoding":{"x":{"field":"x","type":"quantitative"},"y":{"field":"y","type":"quantitative"},"text":{"field":"t"}}}
 ]}
]},
{"spacing":65,"vconcat":[
{"width":804,"height":743,
 "title":{"text":"b","dx":-114,"offset":-15},
 "layer":[
  {"data":{"name":"Bg"},"mark":{"type":"circle","size":270,"opacity":1,"color":"#BEBEBE"},
   "encoding":{"x":{"field":"x","type":"quantitative","scale":{"domain":[-4.77,3.65],"nice":false,"zero":false},"axis":{"values":[-4,-2,0,2],"format":"d","title":"log₂ Fold Change"}},
               "y":{"field":"y","type":"quantitative","scale":{"domain":[-0.41,8.29],"nice":false,"zero":false},"axis":{"values":[0,2,4,6,8],"format":"d","title":"-log₁₀ P"}}}},
  {"data":{"name":"Bgo"},"mark":{"type":"circle","size":190,"opacity":1,"color":"#BEBEBE"},"encoding":{"x":{"field":"x","type":"quantitative"},"y":{"field":"y","type":"quantitative"}}},
  {"data":{"name":"Bb"},"mark":{"type":"circle","size":240,"opacity":1,"color":"#0000FF"},"encoding":{"x":{"field":"x","type":"quantitative"},"y":{"field":"y","type":"quantitative"}}},
  {"data":{"name":"Bbo"},"mark":{"type":"circle","size":190,"opacity":1,"color":"#0000FF"},"encoding":{"x":{"field":"x","type":"quantitative"},"y":{"field":"y","type":"quantitative"}}},
  {"data":{"name":"Br"},"mark":{"type":"circle","size":240,"opacity":1,"color":"#FF0000"},"encoding":{"x":{"field":"x","type":"quantitative"},"y":{"field":"y","type":"quantitative"}}},
  {"data":{"name":"Bro"},"mark":{"type":"circle","size":190,"opacity":1,"color":"#FF0000"},"encoding":{"x":{"field":"x","type":"quantitative"},"y":{"field":"y","type":"quantitative"}}},
  {"data":{"values":[{"x":0}]},"mark":{"type":"rule","color":"black","strokeWidth":2,"strokeDash":[12,5,2,5]},"encoding":{"x":{"field":"x","type":"quantitative"}}},
  {"data":{"values":[{"y":2.4}]},"mark":{"type":"rule","color":"black","strokeWidth":2.5,"strokeDash":[2.5,7.5]},"encoding":{"y":{"field":"y","type":"quantitative"}}},
  {"data":{"values":[{"x":-4.41,"y":2.4,"t":"FDR=0.1"}]},"mark":{"type":"text","align":"left","baseline":"alphabetic","fontStyle":"italic","fontSize":26,"color":"#1a1a1a"},"encoding":{"x":{"field":"x","type":"quantitative"},"y":{"field":"y","type":"quantitative"},"text":{"field":"t"}}},
  {"data":{"name":"BL"},"mark":{"type":"rule","color":"#FF0000","strokeWidth":2},"encoding":{"x":{"field":"x","type":"quantitative"},"y":{"field":"y","type":"quantitative"},"x2":{"field":"x2"},"y2":{"field":"y2"}}},
  {"data":{"name":"BT"},"mark":{"type":"text","align":"left","baseline":"middle","fontSize":24,"color":"#FF0000"},"encoding":{"x":{"field":"x","type":"quantitative"},"y":{"field":"y","type":"quantitative"},"text":{"field":"t"}}}
 ]},
{"width":804,"height":740,
 "title":{"text":"d","dx":-107,"offset":-20},
 "layer":[
  {"data":{"name":"Dg"},"mark":{"type":"circle","size":260,"opacity":1,"color":"#BEBEBE"},
   "encoding":{"x":{"field":"x","type":"quantitative","scale":{"domain":[-3.02,3.86],"nice":false,"zero":false},"axis":{"values":[-2,0,2],"format":"d","title":"log₂ Fold Change"}},
               "y":{"field":"y","type":"quantitative","scale":{"domain":[-0.38,8.45],"nice":false,"zero":false},"axis":{"values":[0,2,4,6,8],"format":"d","title":"-log₁₀ P"}}}},
  {"data":{"name":"Dgo"},"mark":{"type":"circle","size":190,"opacity":1,"color":"#BEBEBE"},"encoding":{"x":{"field":"x","type":"quantitative"},"y":{"field":"y","type":"quantitative"}}},
  {"data":{"name":"Db"},"mark":{"type":"circle","size":190,"opacity":1,"color":"#0000FF"},"encoding":{"x":{"field":"x","type":"quantitative"},"y":{"field":"y","type":"quantitative"}}},
  {"data":{"name":"Dr"},"mark":{"type":"circle","size":190,"opacity":1,"color":"#FF0000"},"encoding":{"x":{"field":"x","type":"quantitative"},"y":{"field":"y","type":"quantitative"}}},
  {"data":{"values":[{"x":0}]},"mark":{"type":"rule","color":"black","strokeWidth":2,"strokeDash":[12,5,2,5]},"encoding":{"x":{"field":"x","type":"quantitative"}}},
  {"data":{"values":[{"y":3.41}]},"mark":{"type":"rule","color":"black","strokeWidth":2.5,"strokeDash":[2.5,7.5]},"encoding":{"y":{"field":"y","type":"quantitative"}}},
  {"data":{"values":[{"x":-2.7,"y":3.41,"t":"FDR=0.1"}]},"mark":{"type":"text","align":"left","baseline":"alphabetic","fontStyle":"italic","fontSize":26,"color":"#1a1a1a"},"encoding":{"x":{"field":"x","type":"quantitative"},"y":{"field":"y","type":"quantitative"},"text":{"field":"t"}}},
  {"data":{"name":"DL"},"mark":{"type":"rule","color":"#FF0000","strokeWidth":2},"encoding":{"x":{"field":"x","type":"quantitative"},"y":{"field":"y","type":"quantitative"},"x2":{"field":"x2"},"y2":{"field":"y2"}}},
  {"data":{"name":"DT"},"mark":{"type":"text","align":"left","baseline":"middle","fontSize":24,"color":"#FF0000"},"encoding":{"x":{"field":"x","type":"quantitative"},"y":{"field":"y","type":"quantitative"},"text":{"field":"t"}}}
 ]}
]}
]
}
